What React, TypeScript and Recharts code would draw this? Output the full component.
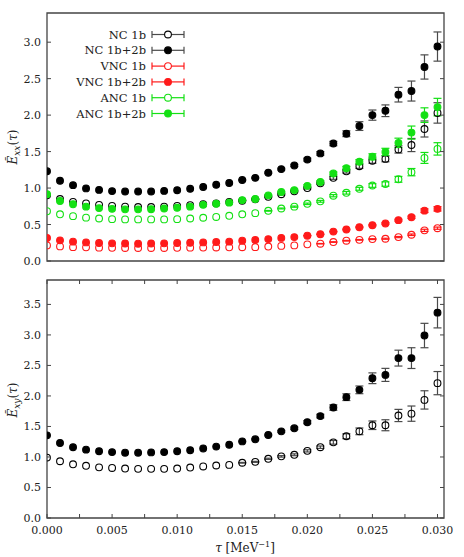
import { ScatterChart, Scatter, XAxis, YAxis, ErrorBar, Legend, ReferenceArea } from "recharts";

// tau grid [MeV^-1]
const tau = [
  0.0, 0.001, 0.002, 0.003, 0.004, 0.005, 0.006, 0.007, 0.008, 0.009, 0.01,
  0.011, 0.012, 0.013, 0.014, 0.015, 0.016, 0.017, 0.018, 0.019, 0.02,
  0.021, 0.022, 0.023, 0.024, 0.025, 0.026, 0.027, 0.028, 0.029, 0.03,
];

// top panel: E_xx
const nc1b = [0.9, 0.85, 0.81, 0.79, 0.77, 0.755, 0.745, 0.74, 0.74, 0.745, 0.755, 0.765, 0.78, 0.79, 0.81, 0.825, 0.845, 0.88, 0.915, 0.955, 1.0, 1.065, 1.14, 1.23, 1.3, 1.375, 1.4, 1.53, 1.59, 1.81, 2.03];
const nc1bErr = [0, 0, 0, 0, 0, 0, 0, 0, 0, 0, 0, 0, 0, 0, 0, 0.005, 0.005, 0.008, 0.01, 0.01, 0.012, 0.015, 0.02, 0.025, 0.03, 0.035, 0.04, 0.05, 0.09, 0.11, 0.14];
const nc12b = [1.23, 1.1, 1.04, 0.995, 0.975, 0.958, 0.952, 0.952, 0.952, 0.961, 0.97, 0.99, 1.015, 1.045, 1.07, 1.11, 1.14, 1.21, 1.26, 1.31, 1.39, 1.475, 1.61, 1.745, 1.85, 2.0, 2.06, 2.28, 2.33, 2.66, 2.94];
const nc12bErr = [0, 0, 0, 0, 0, 0, 0, 0, 0, 0, 0, 0, 0, 0, 0, 0.008, 0.008, 0.01, 0.012, 0.015, 0.02, 0.025, 0.03, 0.04, 0.06, 0.07, 0.08, 0.1, 0.137, 0.166, 0.2];
const vnc1b = [0.214, 0.2, 0.19, 0.187, 0.183, 0.181, 0.178, 0.178, 0.178, 0.178, 0.18, 0.183, 0.184, 0.185, 0.187, 0.189, 0.19, 0.198, 0.207, 0.214, 0.228, 0.237, 0.26, 0.278, 0.29, 0.3, 0.305, 0.328, 0.36, 0.42, 0.45];
const vnc1bErr = [0, 0, 0, 0, 0, 0, 0, 0, 0, 0, 0, 0, 0, 0, 0, 0, 0, 0, 0, 0, 0, 0.003, 0.004, 0.005, 0.005, 0.006, 0.007, 0.008, 0.01, 0.015, 0.015];
const vnc12b = [0.315, 0.283, 0.265, 0.255, 0.246, 0.242, 0.24, 0.237, 0.24, 0.242, 0.246, 0.25, 0.255, 0.26, 0.265, 0.278, 0.287, 0.3, 0.317, 0.328, 0.347, 0.367, 0.403, 0.432, 0.463, 0.49, 0.515, 0.56, 0.6, 0.69, 0.715];
const vnc12bErr = [0, 0, 0, 0, 0, 0, 0, 0, 0, 0, 0, 0, 0, 0, 0, 0, 0, 0, 0, 0, 0.003, 0.004, 0.005, 0.006, 0.007, 0.008, 0.01, 0.012, 0.015, 0.025, 0.03];
const anc1b = [0.683, 0.64, 0.615, 0.594, 0.583, 0.574, 0.57, 0.57, 0.57, 0.57, 0.574, 0.583, 0.593, 0.604, 0.62, 0.64, 0.656, 0.688, 0.72, 0.745, 0.784, 0.818, 0.895, 0.935, 0.99, 1.035, 1.055, 1.12, 1.218, 1.413, 1.537];
const anc1bErr = [0, 0, 0, 0, 0, 0, 0, 0, 0, 0, 0, 0, 0, 0, 0, 0, 0, 0.005, 0.006, 0.008, 0.01, 0.012, 0.015, 0.018, 0.02, 0.025, 0.03, 0.04, 0.05, 0.075, 0.085];
const anc12b = [0.915, 0.823, 0.778, 0.745, 0.725, 0.715, 0.708, 0.708, 0.71, 0.72, 0.73, 0.745, 0.77, 0.784, 0.8, 0.835, 0.85, 0.9, 0.945, 0.972, 1.03, 1.083, 1.2, 1.272, 1.36, 1.43, 1.495, 1.62, 1.76, 2.0, 2.11];
const anc12bErr = [0, 0, 0, 0, 0, 0, 0, 0, 0, 0, 0, 0, 0, 0, 0, 0.005, 0.006, 0.008, 0.01, 0.012, 0.015, 0.018, 0.02, 0.025, 0.03, 0.04, 0.05, 0.064, 0.09, 0.1, 0.12];

// bottom panel: E_xy
const xy1b = [0.99, 0.93, 0.88, 0.855, 0.83, 0.82, 0.81, 0.805, 0.805, 0.805, 0.81, 0.827, 0.845, 0.86, 0.87, 0.905, 0.92, 0.97, 1.01, 1.036, 1.1, 1.16, 1.24, 1.34, 1.42, 1.52, 1.52, 1.68, 1.71, 1.935, 2.21];
const xy1bErr = [0, 0, 0, 0, 0, 0, 0, 0, 0, 0, 0, 0, 0, 0, 0, 0.006, 0.008, 0.01, 0.012, 0.015, 0.018, 0.02, 0.03, 0.04, 0.055, 0.07, 0.09, 0.1, 0.125, 0.15, 0.19];
const xy12b = [1.354, 1.23, 1.16, 1.12, 1.095, 1.08, 1.07, 1.07, 1.075, 1.08, 1.095, 1.11, 1.14, 1.17, 1.2, 1.255, 1.29, 1.36, 1.42, 1.47, 1.57, 1.67, 1.81, 1.98, 2.1, 2.29, 2.345, 2.62, 2.62, 2.99, 3.365];
const xy12bErr = [0, 0, 0, 0, 0, 0, 0, 0, 0, 0, 0, 0, 0, 0, 0, 0.008, 0.01, 0.012, 0.015, 0.02, 0.025, 0.03, 0.045, 0.055, 0.063, 0.088, 0.107, 0.13, 0.17, 0.2, 0.25];

const xTicks = [0, 0.0025, 0.005, 0.0075, 0.01, 0.0125, 0.015, 0.0175, 0.02, 0.0225, 0.025, 0.0275, 0.03];
const yTicksTop = [0, 0.5, 1.0, 1.5, 2.0, 2.5, 3.0];
const yTicksBottom = [0, 0.5, 1.0, 1.5, 2.0, 2.5, 3.0, 3.5];

const BLACK = "#000";
const BAR_GRAY = "#4a4a4a";
const RED = "#ff1a1a";
const GREEN = "#14e014";
const FONT = "'DejaVu Serif', serif";
const FRAME = "#444";

const W = 464;
const PLOT_LEFT = 47;
const PLOT_RIGHT = 444;
const X_MAX = 0.0305;

type Series = { name: string; values: number[]; errs: number[]; color: string; bar: string; filled: boolean };

const topSeries: Series[] = [
  { name: "NC 1b", values: nc1b, errs: nc1bErr, color: BLACK, bar: BAR_GRAY, filled: false },
  { name: "NC 1b+2b", values: nc12b, errs: nc12bErr, color: BLACK, bar: BAR_GRAY, filled: true },
  { name: "VNC 1b", values: vnc1b, errs: vnc1bErr, color: RED, bar: RED, filled: false },
  { name: "VNC 1b+2b", values: vnc12b, errs: vnc12bErr, color: RED, bar: RED, filled: true },
  { name: "ANC 1b", values: anc1b, errs: anc1bErr, color: GREEN, bar: GREEN, filled: false },
  { name: "ANC 1b+2b", values: anc12b, errs: anc12bErr, color: GREEN, bar: GREEN, filled: true },
];

const bottomSeries: Series[] = [
  { name: "NC 1b", values: xy1b, errs: xy1bErr, color: BLACK, bar: BAR_GRAY, filled: false },
  { name: "NC 1b+2b", values: xy12b, errs: xy12bErr, color: BLACK, bar: BAR_GRAY, filled: true },
];

const toRows = (s: Series) => tau.map((t, i) => ({ x: t, y: s.values[i], err: s.errs[i] }));

const dot = (color: string, filled: boolean) => (props: any) => (
  <circle cx={props.cx} cy={props.cy} r={3.4} fill={filled ? color : "none"} stroke={color} strokeWidth={1.1} />
);

// ticks drawn inward on both sides of the frame
const makeXTick = (plotTop: number, showLabels: boolean) => (props: any) => {
  const { x, y, payload, index } = props;
  return (
    <g>
      <line x1={x} x2={x} y1={y} y2={y - 4} stroke={FRAME} />
      <line x1={x} x2={x} y1={plotTop} y2={plotTop + 4} stroke={FRAME} />
      {showLabels && index % 2 === 0 && (
        <text x={x} y={y + 16} textAnchor="middle" fontFamily={FONT} fontSize={11} fill="#222">
          {Number(payload.value).toFixed(3)}
        </text>
      )}
    </g>
  );
};

const YTick = (props: any) => {
  const { x, y, payload } = props;
  return (
    <g>
      <line x1={x} x2={x + 4} y1={y} y2={y} stroke={FRAME} />
      <line x1={PLOT_RIGHT} x2={PLOT_RIGHT - 4} y1={y} y2={y} stroke={FRAME} />
      <text x={x - 6} y={y + 4} textAnchor="end" fontFamily={FONT} fontSize={11} fill="#222">
        {Number(payload.value).toFixed(1)}
      </text>
    </g>
  );
};

const YTitle = ({ sub, cy }: { sub: string; cy: number }) => (
  <text x={17} y={cy} transform={`rotate(-90 17 ${cy})`} textAnchor="middle" fontFamily={FONT} fontSize={12} fill="#222">
    <tspan fontStyle="italic">Ẽ</tspan>
    <tspan fontStyle="italic" fontSize={9} dy={3}>{sub}</tspan>
    <tspan dy={-3}>(</tspan>
    <tspan fontStyle="italic">τ</tspan>
    <tspan>)</tspan>
  </text>
);

const XTitle = () => (
  <text x={245} y={282} textAnchor="middle" fontFamily={FONT} fontSize={12} fill="#222">
    <tspan fontStyle="italic">τ</tspan>
    <tspan> [MeV</tspan>
    <tspan fontSize={8} dy={-5}>−1</tspan>
    <tspan dy={5}>]</tspan>
  </text>
);

function LegendBox() {
  return (
    <svg width={W} height={130} style={{ display: "block" }}>
      {topSeries.map((s, i) => {
        const y = 34.5 + i * 15.8;
        return (
          <g key={s.name}>
            <text x={146} y={y + 4} textAnchor="end" fontFamily={FONT} fontSize={11.5} fill="#222">
              {s.name}
            </text>
            <line x1={152} x2={184} y1={y} y2={y} stroke={s.bar} strokeWidth={1.2} />
            <line x1={152} x2={152} y1={y - 3.5} y2={y + 3.5} stroke={s.bar} strokeWidth={1.2} />
            <line x1={184} x2={184} y1={y - 3.5} y2={y + 3.5} stroke={s.bar} strokeWidth={1.2} />
            <circle cx={168} cy={y} r={3.4} fill={s.filled ? s.color : "#fff"} stroke={s.color} strokeWidth={1.1} />
          </g>
        );
      })}
    </svg>
  );
}

function renderSeries(list: Series[]) {
  return list.map((s) => (
    <Scatter key={s.name} name={s.name} data={toRows(s)} dataKey="y" shape={dot(s.color, s.filled)} isAnimationActive={false}>
      <ErrorBar dataKey="err" direction="y" width={4} stroke={s.bar} strokeWidth={1.2} isAnimationActive={false} />
    </Scatter>
  ));
}

export default function App() {
  return (
    <div style={{ position: "absolute", left: 0, top: 0, width: W, height: 557, background: "#fff" }}>
      <div style={{ position: "absolute", left: 0, top: 0 }}>
        <ScatterChart width={W} height={270} margin={{ top: 13, right: W - PLOT_RIGHT, bottom: 9, left: 0 }}>
          <XAxis
            type="number"
            dataKey="x"
            domain={[0, X_MAX]}
            ticks={xTicks}
            interval={0}
            height={0}
            tickSize={0}
            tickMargin={0}
            axisLine={false}
            tickLine={false}
            tick={makeXTick(13, false)}
            allowDataOverflow
          />
          <YAxis
            type="number"
            dataKey="y"
            domain={[0, 3.4]}
            ticks={yTicksTop}
            interval={0}
            width={PLOT_LEFT}
            tickSize={0}
            tickMargin={0}
            axisLine={false}
            tickLine={false}
            tick={YTick}
            allowDataOverflow
            label={<YTitle sub="xx" cy={147} />}
          />
          <ReferenceArea x1={0} x2={X_MAX} y1={0} y2={3.4} fill="none" stroke={FRAME} strokeWidth={1.3} />
          {renderSeries(topSeries)}
          <Legend
            layout="horizontal"
            verticalAlign="middle"
            align="center"
            content={() => <LegendBox />}
            wrapperStyle={{ left: 0, top: 0, width: W, height: 130 }}
          />
        </ScatterChart>
      </div>
      <div style={{ position: "absolute", left: 0, top: 270 }}>
        <ScatterChart width={W} height={287} margin={{ top: 10, right: W - PLOT_RIGHT, bottom: 0, left: 0 }}>
          <XAxis
            type="number"
            dataKey="x"
            domain={[0, X_MAX]}
            ticks={xTicks}
            interval={0}
            height={39}
            tickSize={0}
            tickMargin={0}
            axisLine={false}
            tickLine={false}
            tick={makeXTick(10, true)}
            allowDataOverflow
            label={<XTitle />}
          />
          <YAxis
            type="number"
            dataKey="y"
            domain={[0, 3.9]}
            ticks={yTicksBottom}
            interval={0}
            width={PLOT_LEFT}
            tickSize={0}
            tickMargin={0}
            axisLine={false}
            tickLine={false}
            tick={YTick}
            allowDataOverflow
            label={<YTitle sub="xy" cy={130} />}
          />
          <ReferenceArea x1={0} x2={X_MAX} y1={0} y2={3.9} fill="none" stroke={FRAME} strokeWidth={1.3} />
          {renderSeries(bottomSeries)}
        </ScatterChart>
      </div>
    </div>
  );
}
